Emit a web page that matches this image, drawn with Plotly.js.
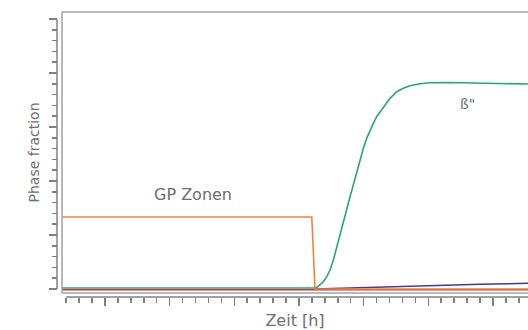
<!DOCTYPE html>
<html>
<head>
<meta charset="utf-8">
<script src="https://cdn.plot.ly/plotly-3.0.1.min.js"></script>
<style>html,body{margin:0;padding:0;background:#fff;}#chart{width:528px;height:330px;}</style>
</head>
<body>
<div id="chart"></div>
<script>
// Time axis values (hours, arbitrary units)
const gpTime   = [1.675, 20.99, 21.24, 37.71];
const gpValues = [1.333, 1.333, 0.0, 0.0];

const betaTime   = [1.675, 21.0, 21.24, 21.42, 21.63, 21.88, 22.15, 22.40, 22.66, 22.92, 23.18, 23.43, 23.69, 23.95, 24.20, 24.47, 24.72, 24.98, 25.24, 25.49, 25.75, 26.01, 26.27, 26.66, 27.04, 27.56, 28.07, 28.59, 29.36, 30.14, 31.5, 33.5, 35.5, 37.71];
const betaValues = [0.02, 0.02, 0.02, 0.035, 0.074, 0.135, 0.228, 0.352, 0.537, 0.783, 1.0, 1.246, 1.463, 1.709, 1.926, 2.172, 2.389, 2.605, 2.790, 2.944, 3.068, 3.191, 3.283, 3.407, 3.531, 3.654, 3.717, 3.765, 3.802, 3.820, 3.825, 3.815, 3.805, 3.796];

const redTime   = [1.675, 37.71];
const redValues = [-0.012, -0.012];

const blueTime   = [21.24, 26.0, 30.0, 34.0, 37.71];
const blueValues = [0.0, 0.035, 0.062, 0.088, 0.105];

const labelGP   = "GP Zonen";
const labelBeta = "ß\"";
const xTitle = "Zeit [h]";
const yTitle = "Phase fraction";

const axisGrey  = "#808080";
const frameGrey = "#a3a3a3";
const textGrey  = "#6e6e6e";

const traces = [
  {x: redTime, y: redValues, type: "scatter", mode: "lines", line: {color: "#c8323c", width: 1.5}, hoverinfo: "skip"},
  {x: betaTime, y: betaValues, type: "scatter", mode: "lines", line: {color: "#2aa866", width: 1.6}, hoverinfo: "skip"},
  {x: blueTime, y: blueValues, type: "scatter", mode: "lines", line: {color: "#46389a", width: 1.5}, hoverinfo: "skip"},
  {x: gpTime, y: gpValues, type: "scatter", mode: "lines", line: {color: "#ef8240", width: 1.6}, hoverinfo: "skip"}
];

const layout = {
  width: 528, height: 330,
  margin: {l: 57, r: 0, t: 12, b: 33},
  paper_bgcolor: "#ffffff", plot_bgcolor: "#ffffff",
  showlegend: false,
  xaxis: {
    domain: [0.0106, 1], range: [1.675, 37.71], anchor: "free", position: 0,
    showgrid: false, zeroline: false, showline: false,
    ticks: "outside", ticklen: 8, tickwidth: 1.5, tickcolor: axisGrey,
    tick0: 0, dtick: 5, showticklabels: false,
    minor: {ticks: "outside", ticklen: 5, tickwidth: 1.5, tickcolor: axisGrey, tick0: 0, dtick: 1, showgrid: false},
    title: {text: xTitle, font: {family: "DejaVu Sans", size: 16, color: textGrey}, standoff: 12}
  },
  yaxis: {
    domain: [0.014, 1], range: [-0.074, 5.13], anchor: "free", position: 0,
    showgrid: false, zeroline: false, showline: false,
    ticks: "outside", ticklen: 8, tickwidth: 1.5, tickcolor: axisGrey,
    tick0: 0, dtick: 1, showticklabels: false,
    minor: {ticks: "outside", ticklen: 5, tickwidth: 1.5, tickcolor: axisGrey, tick0: 0, dtick: 0.2, showgrid: false},
    title: {text: yTitle, font: {family: "DejaVu Sans", size: 14, color: textGrey}, standoff: 5}
  },
  shapes: [
    {type: "line", xref: "x domain", yref: "y domain", x0: 0, x1: 1, y0: 1, y1: 1, line: {color: frameGrey, width: 1.5}},
    {type: "line", xref: "x domain", yref: "y domain", x0: 0, x1: 0, y0: 0, y1: 1, line: {color: frameGrey, width: 1.5}},
    {type: "line", xref: "x domain", yref: "y domain", x0: 0, x1: 1, y0: 0, y1: 0, line: {color: frameGrey, width: 1.5}},
    {type: "line", xref: "paper", yref: "y", x0: 0, x1: 0, y0: 0, y1: 5, line: {color: axisGrey, width: 1.5}},
    {type: "line", xref: "x", yref: "paper", x0: 2, x1: 37.71, y0: 0, y1: 0, line: {color: axisGrey, width: 1.5}}
  ],
  annotations: [
    {x: 11.77, y: 1.75, xref: "x", yref: "y", text: labelGP, showarrow: false, xanchor: "center", yanchor: "middle",
     font: {family: "DejaVu Sans", size: 16, color: textGrey}},
    {x: 33.07, y: 3.43, xref: "x", yref: "y", text: labelBeta, showarrow: false, xanchor: "center", yanchor: "middle",
     font: {family: "DejaVu Sans", size: 14, color: textGrey}}
  ]
};

Plotly.newPlot("chart", traces, layout, {staticPlot: true, displayModeBar: false});
</script>
</body>
</html>
